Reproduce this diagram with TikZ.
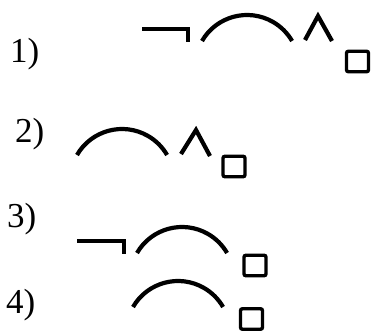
\documentclass[tikz,border=0pt]{standalone}
\usepackage{fontspec}
\setmainfont{Liberation Serif}
\tikzset{
  x=1pt, y=1pt, % work in pixel-like units
  sym/.style={line width=4.2pt, line join=miter}, % thick strokes of the formulas
  box/.style={draw, line width=3.4pt, rounded corners=2pt, minimum width=22pt,
    minimum height=20.5pt, inner sep=0pt}, % the small squares
  num/.style={anchor=base west, inner sep=0pt, font=\fontsize{35}{40}\selectfont},
}
\begin{document}
\begin{tikzpicture}
  \useasboundingbox (0,0) rectangle (372,-332);

  % labels
  \node[num] (one)   at (10,-62)  {1)};
  \node[num] (two)   at (15,-142) {2)};
  \node[num] (three) at (7,-227)  {3)};
  \node[num] (four)  at (6,-313)  {4)};

  % 1)
  \draw[sym] (142,-29) -- (188,-29) -- (188,-42);
  \draw[sym] (202,-41) arc[start angle=150, end angle=30, radius=52];
  \draw[sym] (305,-40) -- (318,-16) -- (332,-41);
  \node[box] (sqone) at (357.5,-61.5) {};

  % 2)
  \draw[sym] (77,-155) arc[start angle=150, end angle=30, radius=52];
  \draw[sym] (181,-154) -- (196,-130) -- (210,-156);
  \node[box] (sqtwo) at (234,-166.5) {};

  % 3)
  \draw[sym] (77,-241) -- (124,-241) -- (124,-254);
  \draw[sym] (137,-253) arc[start angle=150, end angle=30, radius=52];
  \node[box] (sqthree) at (255,-265.5) {};

  % 4)
  \draw[sym] (133,-307) arc[start angle=150, end angle=30, radius=52];
  \node[box] (sqfour) at (251.5,-319) {};
\end{tikzpicture}
\end{document}
